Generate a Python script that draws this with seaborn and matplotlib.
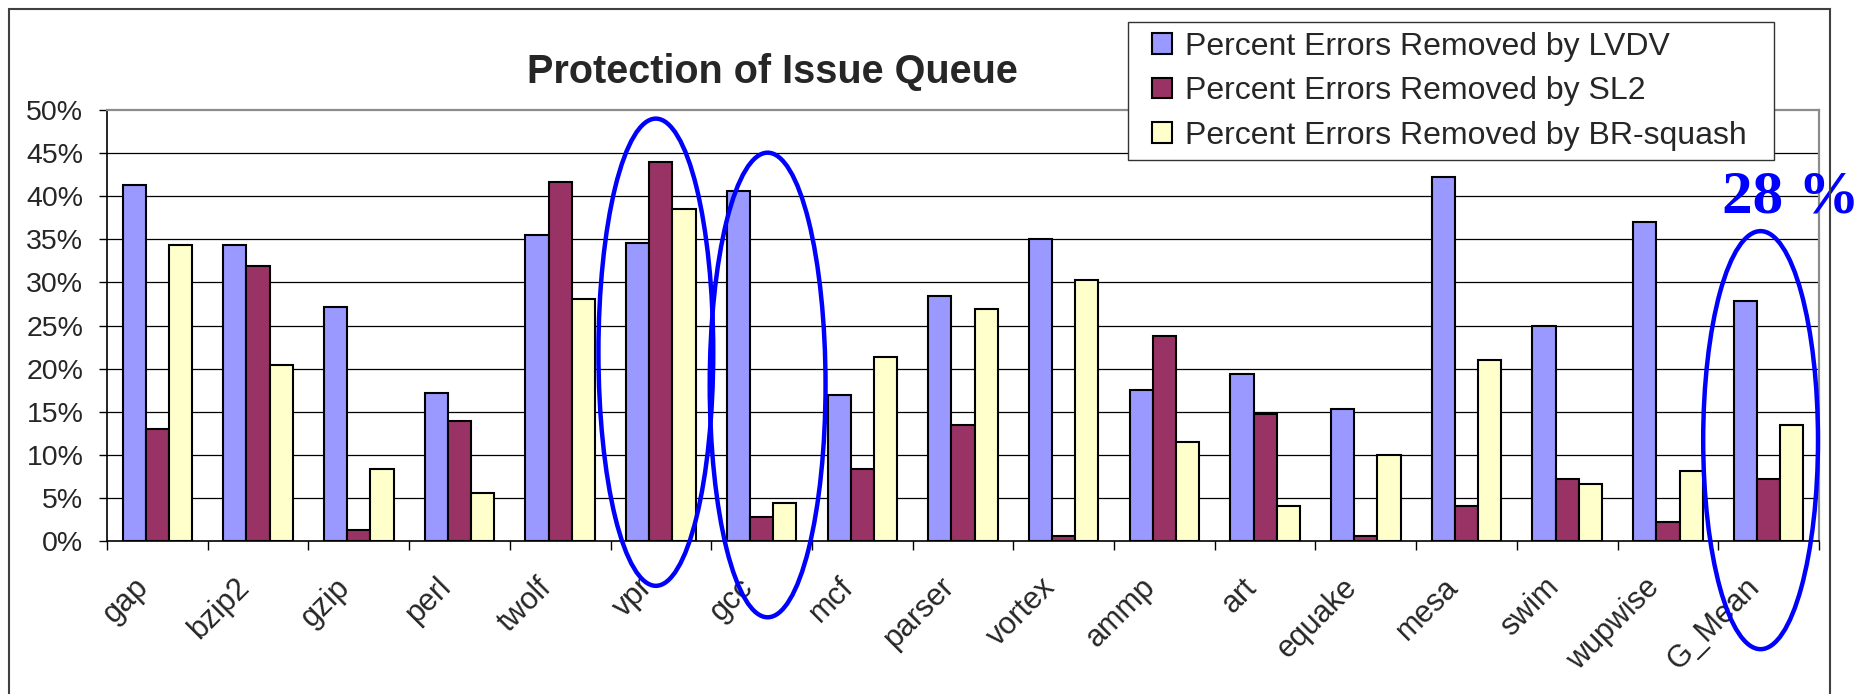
import matplotlib
matplotlib.use("Agg")
import matplotlib.pyplot as plt
import matplotlib.transforms as mtransforms
from matplotlib.patches import Ellipse, Rectangle, Patch
from matplotlib.ticker import PercentFormatter, FixedLocator
import numpy as np
import pandas as pd
import seaborn as sns

# Benchmarks and the share of errors removed by each technique (%)
benchmarks = ["gap", "bzip2", "gzip", "perl", "twolf", "vpr", "gcc", "mcf", "parser",
              "vortex", "ammp", "art", "equake", "mesa", "swim", "wupwise", "G_Mean"]
lvdv = [41.3, 34.3, 27.1, 17.2, 35.5, 34.6, 40.6, 16.9, 28.4,
        35.0, 17.5, 19.4, 15.3, 42.2, 25.0, 37.0, 27.8]
sl2 = [13.0, 31.9, 1.3, 13.9, 41.6, 44.0, 2.8, 8.4, 13.5,
       0.6, 23.8, 14.7, 0.6, 4.1, 7.2, 2.2, 7.2]
br_squash = [34.3, 20.4, 8.4, 5.6, 28.1, 38.5, 4.4, 21.3, 26.9,
             30.3, 11.5, 4.1, 10.0, 21.0, 6.6, 8.1, 13.5]
series_labels = ["Percent Errors Removed by LVDV",
                 "Percent Errors Removed by SL2",
                 "Percent Errors Removed by BR-squash"]
series_colors = ["#9999FF", "#993366", "#FFFFCC"]
y_ticks = [0, 5, 10, 15, 20, 25, 30, 35, 40, 45, 50]
highlighted = ["vpr", "gcc", "G_Mean"]

sns.set_style("white")
plt.rcParams["font.family"] = ["Liberation Sans", "DejaVu Sans"]

W, H = 1866, 694
fig = plt.figure(figsize=(W / 100, H / 100), dpi=100)
ax = fig.add_axes([107 / W, (H - 541) / H, (1819 - 107) / W, (541 - 110) / H])

df = pd.DataFrame({
    "benchmark": benchmarks * 3,
    "value": lvdv + sl2 + br_squash,
    "series": np.repeat(series_labels, len(benchmarks)),
})
sns.barplot(data=df, x="benchmark", y="value", hue="series", order=benchmarks,
            hue_order=series_labels, palette=series_colors, saturation=1,
            width=0.69, edgecolor="black", linewidth=1.5, errorbar=None,
            legend=False, ax=ax, zorder=3)

ax.set_xlim(-0.5, len(benchmarks) - 0.5)
ax.set_ylim(0, 50)
ax.set_xlabel("")
ax.set_ylabel("")

# horizontal gridlines
for v in y_ticks[1:-1]:
    ax.axhline(v, color="black", lw=0.9, zorder=1)

# spines: dark axes on the left/bottom, grey plot-area border top/right
for side in ("left", "bottom"):
    ax.spines[side].set_color("black")
    ax.spines[side].set_linewidth(1.2)
for side in ("top", "right"):
    ax.spines[side].set_color("#8c8c8c")
    ax.spines[side].set_linewidth(1.6)

ax.yaxis.set_major_locator(FixedLocator(y_ticks))
ax.yaxis.set_major_formatter(PercentFormatter(decimals=0))
ax.tick_params(axis="y", length=6, width=1, direction="out", pad=11,
               labelsize=20.5, color="black", left=True)

ax.set_xticks(range(len(benchmarks)))
ax.set_xticklabels(benchmarks, rotation=45, ha="right", va="center",
                   rotation_mode="anchor", fontsize=22)
ax.tick_params(axis="x", which="major", length=0, pad=30)
ax.set_xticks(np.arange(-0.5, len(benchmarks), 1.0), minor=True)
ax.tick_params(axis="x", which="minor", length=6.5, width=1, color="black",
               direction="out", bottom=True)
shift = mtransforms.ScaledTranslation(-0.13, 0, fig.dpi_scale_trans)
for lbl in ax.get_xticklabels():
    lbl.set_transform(lbl.get_transform() + shift)

# legend: boxed panel in the top-right corner
fig.add_artist(Rectangle((1128 / W, 1 - 160 / H), (1774 - 1128) / W, (160 - 22) / H,
                         transform=fig.transFigure, facecolor="white",
                         edgecolor="#333333", linewidth=1.0, zorder=4))
handles = [Patch(facecolor=c, edgecolor="black", linewidth=1.5) for c in series_colors]
leg = fig.legend(handles, series_labels, loc="upper left",
                 bbox_to_anchor=(1152 / W, 1 - 32 / H), fontsize=23,
                 handlelength=0.62, handleheight=0.62, handletextpad=0.42,
                 labelspacing=0.45, borderpad=0, borderaxespad=0,
                 frameon=False)
leg.set_zorder(5)

# title
fig.text(772 / W, 1 - 72 / H, "Protection of Issue Queue", ha="center", va="center",
         fontsize=28.5, fontweight="bold")

# outer chart border
fig.add_artist(Rectangle((9 / W, -0.02), (1830 - 9) / W, (H - 9) / H + 0.02,
                         transform=fig.transFigure, fill=False,
                         edgecolor="#404040", linewidth=1.5))

# highlight ovals around selected benchmarks
oval_specs = {"vpr": (-0.05, 21.9, 1.14, 54.2),
              "gcc": (0.06, 18.1, 1.15, 53.9),
              "G_Mean": (-0.08, 11.7, 1.14, 48.5)}
for name in highlighted:
    dx, cy, w, h = oval_specs[name]
    i = benchmarks.index(name)
    ax.add_patch(Ellipse((i + dx, cy), w, h, fill=False, edgecolor="#0000FF",
                         linewidth=3.2, clip_on=False, zorder=6))

gm = benchmarks.index("G_Mean")
ax.text(gm + 0.22, 39.8, f"{round(lvdv[gm])} %", color="#0000FF", fontsize=44,
        fontweight="bold", family="Liberation Serif", ha="center", va="center",
        clip_on=False, zorder=7)

fig.savefig("out.png", dpi=100)
